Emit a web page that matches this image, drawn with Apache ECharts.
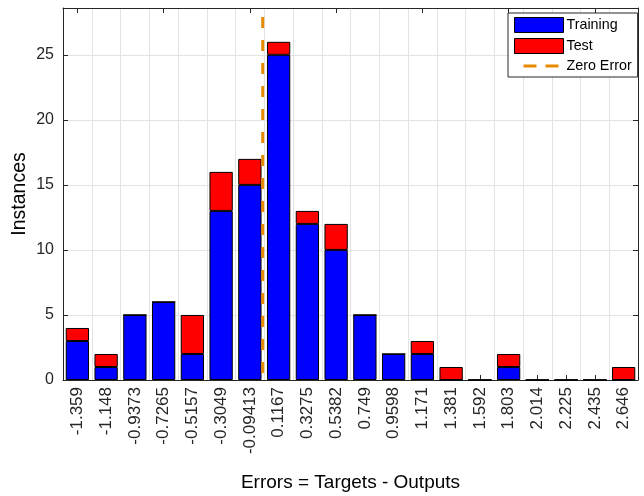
<!DOCTYPE html>
<html><head><meta charset="utf-8">
<script src="https://cdn.jsdelivr.net/npm/echarts@6/dist/echarts.min.js"></script>
<style>html,body{margin:0;padding:0;background:#fff}#c{width:644px;height:496px}</style>
</head><body><div id="c"></div>
<script>
const binCenters = ['-1.359','-1.148','-0.9373','-0.7265','-0.5157','-0.3049','-0.09413','0.1167','0.3275','0.5382','0.749','0.9598','1.171','1.381','1.592','1.803','2.014','2.225','2.435','2.646'];
const training = [3,1,5,6,2,13,15,25,12,10,5,2,2,0,0,1,0,0,0,0];
const test =     [1,1,0,0,3,3,2,1,1,2,0,0,1,1,0,1,0,0,0,1];
const zeroError = 0;
const yMax = 28.6;

const first = parseFloat(binCenters[0]);
const last = parseFloat(binCenters[binCenters.length-1]);
const bw = (last - first) / (binCenters.length - 1);
const zeroIdx = (zeroError - first) / bw;

const axisColor = '#262626';
const gridColor = '#E3E3E3';
const font = 'Liberation Sans, Arial, sans-serif';
const orange = '#E68A00';

const chart = echarts.init(document.getElementById('c'), null, {renderer:'canvas'});
chart.setOption({
  animation:false,
  textStyle:{fontFamily:font},
  grid:{left:63,right:6,top:8,bottom:116,containLabel:false,outerBoundsMode:'none'},
  legend:{
    orient:'vertical', left:508, top:13, width:122,
    itemWidth:49, itemHeight:15, itemGap:5,
    padding:[4,6,4,5],
    borderColor:'#262626', borderWidth:1, backgroundColor:'#fff',
    textStyle:{fontSize:14.3, color:'#000', fontFamily:font, padding:[0,0,0,-2]},
    data:[
      {name:'Training', icon:'rect', itemStyle:{color:'#0000FF', borderColor:'#000', borderWidth:1}},
      {name:'Test', icon:'rect', itemStyle:{color:'#FF0000', borderColor:'#000', borderWidth:1}},
      {name:'Zero Error', itemStyle:{opacity:0}, lineStyle:{color:orange, width:3, type:[13,9]}}
    ]
  },
  xAxis:[
    {type:'category', data:binCenters, position:'bottom', boundaryGap:true,
     axisLine:{onZero:false, lineStyle:{color:axisColor}},
     axisTick:{show:true, inside:true, alignWithLabel:true, length:5, lineStyle:{color:axisColor}},
     axisLabel:{rotate:90, fontSize:17, color:axisColor, margin:7, fontFamily:font, interval:0},
     splitLine:{show:false},
     name:'Errors = Targets - Outputs', nameLocation:'middle', nameGap:93,
     nameTextStyle:{fontSize:19, color:'#000', fontFamily:font}},
    {type:'category', data:binCenters, position:'top', boundaryGap:true,
     axisLine:{show:true, onZero:false, lineStyle:{color:axisColor}},
     axisTick:{show:true, inside:true, alignWithLabel:true, length:5, lineStyle:{color:axisColor}},
     axisLabel:{show:false}, splitLine:{show:false}},
    {type:'value', min:-0.5, max:binCenters.length-0.5, interval:1, position:'top',
     axisLine:{show:false, onZero:false}, axisTick:{show:false}, axisLabel:{show:false},
     splitLine:{show:true, lineStyle:{color:gridColor}}}
  ],
  yAxis:[
    {type:'value', min:0, max:yMax, interval:5, position:'left',
     axisLine:{show:true, onZero:false, lineStyle:{color:axisColor}},
     axisTick:{show:true, inside:true, length:5, lineStyle:{color:axisColor}},
     axisLabel:{fontSize:16, color:axisColor, margin:9, fontFamily:font,
       formatter:function(v){return (v%5===0 && v<=25) ? String(v) : '';}},
     splitLine:{show:true, lineStyle:{color:gridColor}},
     name:'Instances', nameLocation:'middle', nameGap:33, nameMoveOverlap:false,
     nameTextStyle:{fontSize:19.5, color:'#000', fontFamily:font}},
    {type:'value', min:0, max:yMax, interval:5, position:'right',
     axisLine:{show:true, onZero:false, lineStyle:{color:axisColor}},
     axisTick:{show:true, inside:true, length:5, lineStyle:{color:axisColor}},
     axisLabel:{show:false}, splitLine:{show:false}}
  ],
  series:[
    {name:'Training', type:'bar', stack:'s', xAxisIndex:0, yAxisIndex:0, data:training, barCategoryGap:'19%',
     itemStyle:{color:'#0000FF', borderColor:'#000', borderWidth:1}},
    {name:'Test', type:'bar', stack:'s', xAxisIndex:0, yAxisIndex:0, data:test, barCategoryGap:'19%',
     itemStyle:{color:'#FF0000', borderColor:'#000', borderWidth:1}},
    {name:'Zero Error', type:'line', xAxisIndex:2, yAxisIndex:0, symbol:'none',
     data:[[zeroIdx,yMax],[zeroIdx,0]],
     itemStyle:{color:orange},
     lineStyle:{color:orange, width:3, type:[11,12], dashOffset:-9}, z:5}
  ]
});
</script></body></html>
